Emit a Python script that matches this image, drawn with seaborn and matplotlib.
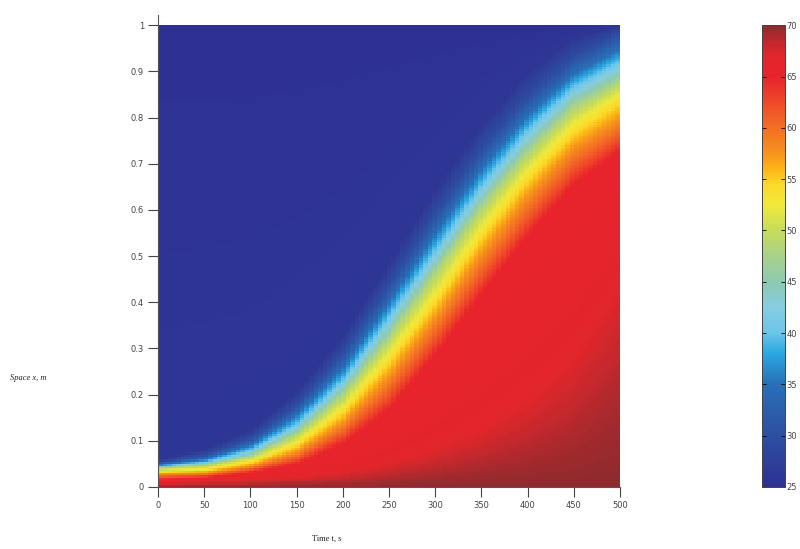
import numpy as np
import matplotlib
matplotlib.use("Agg")
import matplotlib.pyplot as plt
import seaborn as sns
from matplotlib.colors import LinearSegmentedColormap

times = [0, 50, 100, 150, 200, 250, 300, 350, 400, 450, 500]

# space position x (m) of each isotherm at those times
s_69 = [0.003, 0.004, 0.005, 0.007, 0.010, 0.016, 0.028, 0.045, 0.070, 0.110, 0.200]
s_67 = [0.008, 0.010, 0.014, 0.020, 0.030, 0.050, 0.080, 0.120, 0.180, 0.270, 0.420]
s_65 = [0.016, 0.020, 0.031, 0.050, 0.094, 0.168, 0.285, 0.415, 0.540, 0.652, 0.725]
s_58 = [0.027, 0.030, 0.045, 0.075, 0.137, 0.235, 0.360, 0.497, 0.622, 0.728, 0.790]
s_53 = [0.034, 0.038, 0.056, 0.096, 0.170, 0.283, 0.412, 0.553, 0.677, 0.778, 0.844]
s_48 = [0.040, 0.046, 0.067, 0.115, 0.200, 0.323, 0.462, 0.602, 0.721, 0.820, 0.875]
s_40 = [0.044, 0.054, 0.080, 0.137, 0.232, 0.368, 0.510, 0.650, 0.770, 0.864, 0.918]
s_35 = [0.048, 0.060, 0.091, 0.157, 0.257, 0.398, 0.545, 0.685, 0.800, 0.891, 0.945]
s_30 = [0.053, 0.068, 0.104, 0.177, 0.287, 0.433, 0.585, 0.725, 0.838, 0.925, 0.980]
s_26 = [0.060, 0.082, 0.124, 0.207, 0.327, 0.483, 0.640, 0.780, 0.892, 0.970, 0.998]
levels = [69, 67, 65, 58, 53, 48, 40, 35, 30, 26]
isotherms = [s_69, s_67, s_65, s_58, s_53, s_48, s_40, s_35, s_30, s_26]

T_bottom = [70, 70, 70, 70, 70, 70, 70, 70, 70, 70, 70]
T_top = [25, 25, 25, 25, 25, 25, 25, 25, 25, 25, 26]

xtick_vals = [0, 50, 100, 150, 200, 250, 300, 350, 400, 450, 500]
ytick_vals = [0, 0.1, 0.2, 0.3, 0.4, 0.5, 0.6, 0.7, 0.8, 0.9, 1]
ytick_labels = ["0", "0.1", "0.2", "0.3", "0.4", "0.5", "0.6", "0.7", "0.8", "0.9", "1"]
cbar_ticks = [25, 30, 35, 40, 45, 50, 55, 60, 65, 70]

# colour scale as printed in the figure
cmap_vals = [25, 30, 35, 38, 40, 42.5, 45, 47.5, 50, 52.5, 54.5, 56, 57.5,
             60, 62.5, 65, 67, 68.5, 70]
cmap_cols = ["#2e3192", "#2d4fa2", "#2870b8", "#2aa8e0", "#6cc5ea", "#86cde2",
             "#8dcab0", "#a8d28a", "#c6dc5a", "#f1e93a", "#fcd92a", "#fcb515",
             "#f7941d", "#f36f24", "#ef4a29", "#e8232b", "#e2262b", "#c0282d",
             "#8f2a2e"]
cmap = LinearSegmentedColormap.from_list(
    "print_jet", [((v - 25) / 45, c) for v, c in zip(cmap_vals, cmap_cols)])

# build the temperature table column by column from the isotherm positions
n_t, n_s = 101, 200
t_grid = np.linspace(0, 500, n_t)
s_grid = (np.arange(n_s) + 0.5) / n_s
field = np.zeros((n_s, n_t))
for j, t in enumerate(t_grid):
    pos = [0.0] + [np.interp(t, times, iso) for iso in isotherms] + [1.0]
    temps = [np.interp(t, times, T_bottom)] + levels + [np.interp(t, times, T_top)]
    field[:, j] = np.interp(s_grid, pos, temps)
field = np.flipud(field)

fig = plt.figure(figsize=(8, 5.49), dpi=100)
ax = fig.add_axes([0.1975, 0.113, 0.5775, 0.841])
cax = fig.add_axes([0.9525, 0.113, 0.029, 0.841])

sns.heatmap(field, cmap=cmap, vmin=25, vmax=70, ax=ax, cbar_ax=cax,
            xticklabels=False, yticklabels=False, rasterized=True)

tick_col = "#444444"
ax.set_xticks(np.array(xtick_vals) / 500 * n_t)
ax.set_xticklabels([str(v) for v in xtick_vals])
ax.set_yticks((1 - np.array(ytick_vals)) * n_s)
ax.set_yticklabels(ytick_labels)
for side in ["left", "bottom"]:
    ax.spines[side].set_visible(True)
    ax.spines[side].set_color("#555555")
    ax.spines[side].set_linewidth(0.8)
ax.spines["left"].set_bounds(n_s, -0.022 * n_s)
ax.tick_params(axis="both", direction="out", length=7, width=0.8,
               color="#444444", labelsize=6, labelcolor=tick_col, pad=3)
ax.tick_params(axis="y", rotation=0)

ax.set_xlabel("Time t, s", family="Liberation Serif", fontsize=6, color="#222222")
ax.xaxis.set_label_coords(0.366, -0.104)
ax.set_ylabel("Space x, m", family="Liberation Serif", style="italic", fontsize=6,
              color="#222222", rotation=0, ha="left", va="center")
ax.yaxis.set_label_coords(-0.32, 0.236)

cax.set_yticks(cbar_ticks)
cax.tick_params(axis="y", direction="in", left=True, right=True, length=3,
                width=0.6, labelsize=6, labelcolor=tick_col, pad=1)
for sp in cax.spines.values():
    sp.set_visible(True)
    sp.set_color("#444444")
    sp.set_linewidth(0.6)

fig.savefig("out.png", dpi=100)
